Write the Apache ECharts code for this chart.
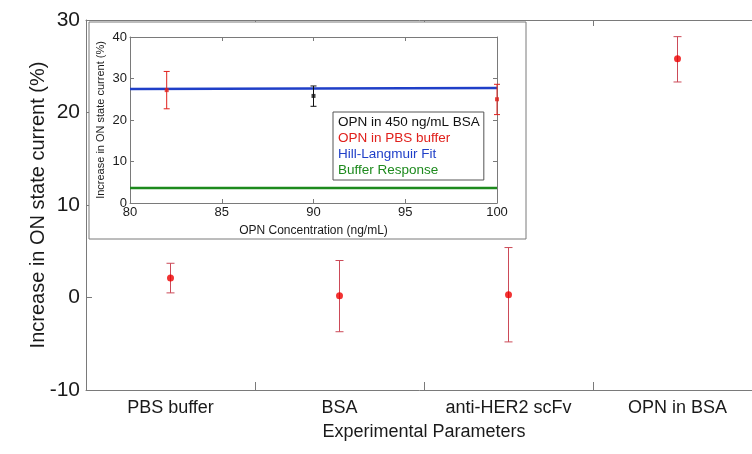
<!DOCTYPE html>
<html>
<head>
<meta charset="utf-8">
<script src="https://cdn.jsdelivr.net/npm/echarts@6/dist/echarts.min.js"></script>
<style>
  html, body { margin: 0; padding: 0; background: #fff; }
  #main { width: 752px; height: 454px; }
</style>
</head>
<body>
<div id="main"></div>
<script>
// 主图数据
var categories = ['PBS buffer', 'BSA', 'anti-HER2 scFv', 'OPN in BSA']
var meanVals = [2.1, 0.2, 0.3, 25.8]
var errLow = [0.5, -3.7, -4.8, 23.3]
var errHigh = [3.7, 4.0, 5.4, 28.2]
var mainTicks = [-10, 0, 10, 20, 30]

// 插图数据
var bsaConc = [90]
var bsaMean = [25.8]
var bsaLow = [23.3]
var bsaHigh = [28.2]
var pbsConc = [82, 100]
var pbsMean = [27.2, 25.0]
var pbsLow = [22.7, 21.3]
var pbsHigh = [31.7, 28.6]
var fitX = [80, 100]
var fitY = [27.5, 27.7]
var bufX = [80, 100]
var bufY = [3.6, 3.6]

var FONT = 'Liberation Sans, Arial, sans-serif'
var AXIS_GRAY = '#7a7a7a'

function zip3 (a, b, c) {
    return a.map(function (v, i) { return [v, b[i], c[i]] })
}
function zip2 (a, b) {
    return a.map(function (v, i) { return [v, b[i]] })
}

// 误差线
function errorBarRender (capHalf) {
    return function (params, api) {
        var x = api.value(0)
        var lo = api.coord([x, api.value(1)])
        var hi = api.coord([x, api.value(2)])
        var style = { stroke: api.visual('color'), lineWidth: 1 }
        return {
            type: 'group',
            children: [
                { type: 'line', shape: { x1: lo[0], y1: lo[1], x2: hi[0], y2: hi[1] }, style: style },
                { type: 'line', shape: { x1: lo[0] - capHalf, y1: lo[1], x2: lo[0] + capHalf, y2: lo[1] }, style: style },
                { type: 'line', shape: { x1: hi[0] - capHalf, y1: hi[1], x2: hi[0] + capHalf, y2: hi[1] }, style: style }
            ]
        }
    }
}

var catIdx = categories.map(function (c, i) { return i })

var myChart = echarts.init(document.getElementById('main'))
var option = {
    animation: false,
    textStyle: { fontFamily: FONT },
    grid: [
        { left: 86, top: 20, width: 676, bottom: 64, outerBoundsMode: 'none' },
        { left: 130, top: 37, width: 367, height: 166, zlevel: 1, z: 2, outerBoundsMode: 'none' }
    ],
    graphic: [
        {
            type: 'rect',
            zlevel: 1,
            z: 0,
            shape: { x: 89, y: 22, width: 437, height: 217 },
            style: { fill: '#fff', stroke: AXIS_GRAY, lineWidth: 1 }
        }
    ],
    legend: {
        zlevel: 1,
        z: 10,
        orient: 'vertical',
        left: 333,
        top: 112,
        itemWidth: 0,
        itemHeight: 0,
        itemGap: 0,
        padding: [2, 4, 2, 0],
        backgroundColor: '#fff',
        borderColor: '#555',
        borderWidth: 1,
        selectedMode: false,
        textStyle: { fontSize: 13.5, lineHeight: 16, fontFamily: FONT },
        data: [
            { name: 'OPN in 450 ng/mL BSA', icon: 'rect', textStyle: { color: '#111' } },
            { name: 'OPN in PBS buffer', icon: 'rect', textStyle: { color: '#e0201c' } },
            { name: 'Hill-Langmuir Fit', icon: 'rect', textStyle: { color: '#1f3fc8' } },
            { name: 'Buffer Response', icon: 'rect', textStyle: { color: '#1d8a1d' } }
        ]
    },
    xAxis: [
        {
            gridIndex: 0,
            type: 'category',
            data: categories,
            boundaryGap: true,
            axisLine: { onZero: false, lineStyle: { color: AXIS_GRAY } },
            axisTick: { show: true, inside: true, length: 8, lineStyle: { color: AXIS_GRAY } },
            axisLabel: { fontSize: 18, color: '#1a1a1a', margin: 9, fontFamily: FONT },
            name: 'Experimental Parameters',
            nameLocation: 'middle',
            nameGap: 33,
            nameMoveOverlap: false,
            nameTextStyle: { fontSize: 18, color: '#1a1a1a', fontFamily: FONT },
            splitLine: { show: false }
        },
        {
            gridIndex: 0,
            type: 'category',
            data: categories,
            position: 'top',
            axisLine: { onZero: false, lineStyle: { color: AXIS_GRAY } },
            axisTick: { show: true, inside: true, length: 6, lineStyle: { color: AXIS_GRAY } },
            axisLabel: { show: false }
        },
        {
            gridIndex: 1,
            type: 'value',
            min: 80,
            max: 100,
            interval: 5,
            zlevel: 1,
            z: 3,
            axisLine: { onZero: false, lineStyle: { color: AXIS_GRAY } },
            axisTick: { inside: true, length: 4, lineStyle: { color: AXIS_GRAY } },
            axisLabel: { fontSize: 13, color: '#1a1a1a', margin: 3, fontFamily: FONT },
            splitLine: { show: false },
            name: 'OPN Concentration (ng/mL)',
            nameLocation: 'middle',
            nameGap: 22,
            nameMoveOverlap: false,
            nameTextStyle: { fontSize: 12, color: '#1a1a1a', fontFamily: FONT }
        },
        {
            gridIndex: 1,
            type: 'value',
            min: 80,
            max: 100,
            interval: 5,
            position: 'top',
            zlevel: 1,
            z: 3,
            axisLine: { onZero: false, lineStyle: { color: AXIS_GRAY } },
            axisTick: { inside: true, length: 4, lineStyle: { color: AXIS_GRAY } },
            axisLabel: { show: false },
            splitLine: { show: false }
        }
    ],
    yAxis: [
        {
            gridIndex: 0,
            type: 'value',
            min: -10,
            max: 30,
            interval: 10,
            axisLine: { show: true, onZero: false, lineStyle: { color: AXIS_GRAY } },
            axisTick: { show: true, inside: true, length: 6, lineStyle: { color: AXIS_GRAY } },
            axisLabel: {
                fontSize: 21,
                color: '#1a1a1a',
                margin: 6,
                fontFamily: FONT,
                formatter: function (v) { return mainTicks.indexOf(v) >= 0 ? String(v) : '' }
            },
            splitLine: { show: false },
            name: 'Increase in ON state current (%)',
            nameLocation: 'middle',
            nameGap: 38,
            nameMoveOverlap: false,
            nameTextStyle: { fontSize: 20, color: '#1a1a1a', fontFamily: FONT }
        },
        {
            gridIndex: 1,
            type: 'value',
            min: 0,
            max: 40,
            interval: 10,
            zlevel: 1,
            z: 3,
            axisLine: { show: true, onZero: false, lineStyle: { color: AXIS_GRAY } },
            axisTick: { show: true, inside: true, length: 4, lineStyle: { color: AXIS_GRAY } },
            axisLabel: { fontSize: 13, color: '#1a1a1a', margin: 3, fontFamily: FONT },
            splitLine: { show: false },
            name: 'Increase in ON state current (%)',
            nameLocation: 'middle',
            nameGap: 24,
            nameMoveOverlap: false,
            nameTextStyle: { fontSize: 11, color: '#1a1a1a', fontFamily: FONT }
        },
        {
            gridIndex: 1,
            type: 'value',
            min: 0,
            max: 40,
            interval: 10,
            position: 'right',
            zlevel: 1,
            z: 3,
            axisLine: { show: true, onZero: false, lineStyle: { color: AXIS_GRAY } },
            axisTick: { show: true, inside: true, length: 4, lineStyle: { color: AXIS_GRAY } },
            axisLabel: { show: false },
            splitLine: { show: false }
        }
    ],
    series: [
        {
            name: 'main-err',
            type: 'custom',
            xAxisIndex: 0,
            yAxisIndex: 0,
            itemStyle: { color: '#cc4a58' },
            renderItem: errorBarRender(4),
            encode: { x: 0, y: [1, 2] },
            data: zip3(catIdx, errLow, errHigh),
            z: 3
        },
        {
            name: 'main-mean',
            type: 'scatter',
            xAxisIndex: 0,
            yAxisIndex: 0,
            symbol: 'circle',
            symbolSize: 7,
            itemStyle: { color: '#ee0000' },
            data: zip2(catIdx, meanVals),
            z: 4
        },
        {
            name: 'Hill-Langmuir Fit',
            type: 'line',
            xAxisIndex: 2,
            yAxisIndex: 1,
            zlevel: 1,
            z: 4,
            showSymbol: false,
            lineStyle: { color: '#1f3fc8', width: 2.5 },
            itemStyle: { color: '#1f3fc8' },
            data: zip2(fitX, fitY)
        },
        {
            name: 'Buffer Response',
            type: 'line',
            xAxisIndex: 2,
            yAxisIndex: 1,
            zlevel: 1,
            z: 4,
            showSymbol: false,
            lineStyle: { color: '#1d8a1d', width: 2.5 },
            itemStyle: { color: '#1d8a1d' },
            data: zip2(bufX, bufY)
        },
        {
            name: 'OPN in PBS buffer',
            type: 'custom',
            xAxisIndex: 2,
            yAxisIndex: 1,
            zlevel: 1,
            z: 5,
            itemStyle: { color: '#e0201c' },
            renderItem: errorBarRender(3),
            encode: { x: 0, y: [1, 2] },
            data: zip3(pbsConc, pbsLow, pbsHigh)
        },
        {
            name: 'OPN in PBS buffer',
            type: 'scatter',
            xAxisIndex: 2,
            yAxisIndex: 1,
            zlevel: 1,
            z: 6,
            symbol: 'rect',
            symbolSize: 4,
            itemStyle: { color: '#e0201c' },
            data: zip2(pbsConc, pbsMean)
        },
        {
            name: 'OPN in 450 ng/mL BSA',
            type: 'custom',
            xAxisIndex: 2,
            yAxisIndex: 1,
            zlevel: 1,
            z: 5,
            itemStyle: { color: '#111' },
            renderItem: errorBarRender(3),
            encode: { x: 0, y: [1, 2] },
            data: zip3(bsaConc, bsaLow, bsaHigh)
        },
        {
            name: 'OPN in 450 ng/mL BSA',
            type: 'scatter',
            xAxisIndex: 2,
            yAxisIndex: 1,
            zlevel: 1,
            z: 6,
            symbol: 'rect',
            symbolSize: 4,
            itemStyle: { color: '#111' },
            data: zip2(bsaConc, bsaMean)
        }
    ]
}
myChart.setOption(option)
</script>
</body>
</html>
